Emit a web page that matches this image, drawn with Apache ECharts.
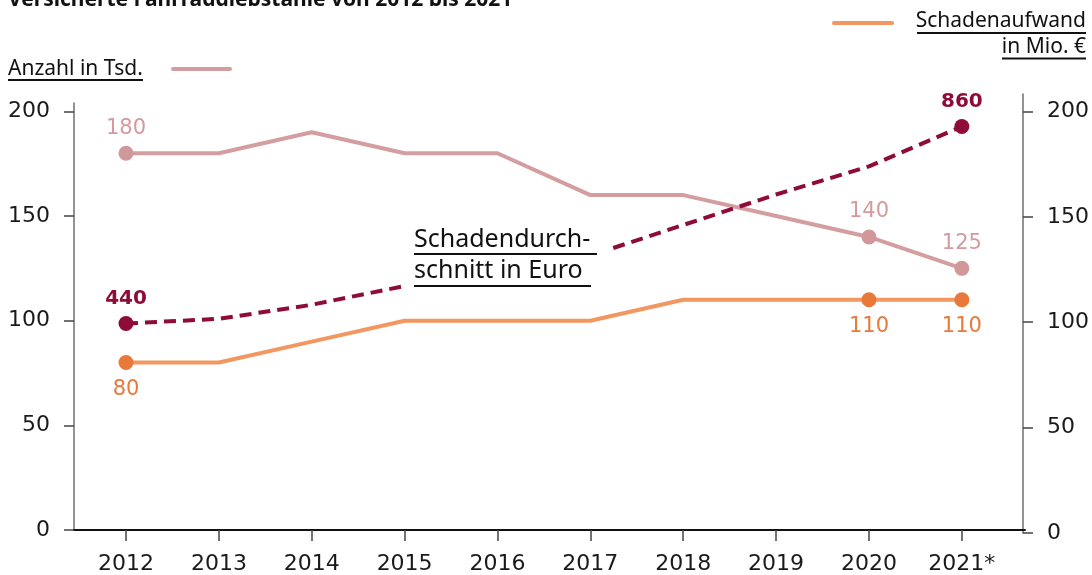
<!DOCTYPE html>
<html>
<head>
<meta charset="utf-8">
<script src="https://cdn.jsdelivr.net/npm/echarts@6/dist/echarts.min.js"></script>
<style>
  html, body { margin: 0; padding: 0; background: #fff; }
  #chart { width: 1092px; height: 575px; }
</style>
</head>
<body>
<div id="chart"></div>
<script>
// ---- data ----
const years = [2012, 2013, 2014, 2015, 2016, 2017, 2018, 2019, 2020, 2021];
const yearLabels = ['2012', '2013', '2014', '2015', '2016', '2017', '2018', '2019', '2020', '2021*'];
const yTicks = [0, 50, 100, 150, 200];
// Anzahl in Tsd. (left axis)
const anzahl = [180, 180, 190, 180, 180, 160, 160, 150, 140, 125];
const anzahlMarked = [0, 8, 9];
// Schadenaufwand in Mio. € (right axis)
const aufwand = [80, 80, 90, 100, 100, 100, 110, 110, 110, 110];
const aufwandMarked = [0, 8, 9];
// Schadendurchschnitt in Euro (own hidden scale)
const durchschnitt = [440, 450, 480, 520, 550, 585, 650, 715, 775, 860];
const durchschnittMarked = [0, 9];

const NUM_FONT = 'DejaVu Sans';
const TXT_FONT = 'Noto Sans';

function build(values, marked) {
  return years.map((y, i) => {
    const on = marked.indexOf(i) >= 0;
    return { value: [y, values[i]], symbol: on ? 'circle' : 'none', label: { show: on } };
  });
}

const chart = echarts.init(document.getElementById('chart'), null, { renderer: 'canvas' });

const xCommon = { type: 'value', min: 2011.44, max: 2021.68 };
const yAxisStyle = {
  axisLine: { show: true, lineStyle: { color: '#6f6f6f', width: 1.5 } },
  axisTick: { show: true, customValues: yTicks, length: 10, lineStyle: { color: '#444', width: 1.5 } },
  axisLabel: { customValues: yTicks, margin: 24, fontFamily: NUM_FONT, fontSize: 22, color: '#1a1a1a',
               verticalAlign: 'middle' },
  splitLine: { show: false }
};

const option = {
  animation: false,
  backgroundColor: '#fff',
  grid: [
    { left: 74, right: 67, top: 103, bottom: 42 },
    { left: 74, right: 67, top: 94, bottom: 42 }
  ],
  xAxis: [
    Object.assign({}, xCommon, {
      gridIndex: 0,
      axisLine: { show: true, onZero: false, lineStyle: { color: '#111', width: 2 } },
      axisTick: { show: true, customValues: years, length: 11, lineStyle: { color: '#444', width: 1.5 } },
      axisLabel: {
        customValues: years,
        formatter: v => yearLabels[years.indexOf(Math.round(v))],
        margin: 23, fontFamily: NUM_FONT, fontSize: 22, color: '#1a1a1a'
      },
      splitLine: { show: false }
    }),
    Object.assign({}, xCommon, { gridIndex: 1, show: false })
  ],
  yAxis: [
    Object.assign({ type: 'value', gridIndex: 0, position: 'left', min: 0, max: 204 }, yAxisStyle),
    Object.assign({ type: 'value', gridIndex: 1, position: 'right', min: 0, max: 208.3 }, yAxisStyle),
    { type: 'value', gridIndex: 0, min: 0, max: 910, show: false }
  ],
  series: [
    {
      name: 'Schadenaufwand in Mio. €',
      type: 'line', xAxisIndex: 0, yAxisIndex: 0, z: 2,
      data: build(aufwand, aufwandMarked),
      showAllSymbol: true, symbolSize: 15,
      lineStyle: { color: '#f2975f', width: 4 },
      itemStyle: { color: '#e9783b' },
      label: { position: 'bottom', distance: 9, formatter: p => p.value[1],
               fontFamily: NUM_FONT, fontSize: 21, color: '#e9783b' },
      emphasis: { disabled: true }
    },
    {
      name: 'Anzahl in Tsd.',
      type: 'line', xAxisIndex: 0, yAxisIndex: 0, z: 3,
      data: build(anzahl, anzahlMarked),
      showAllSymbol: true, symbolSize: 15,
      lineStyle: { color: '#d49ea1', width: 4 },
      itemStyle: { color: '#d1989b' },
      label: { position: 'top', distance: 7, formatter: p => p.value[1],
               fontFamily: NUM_FONT, fontSize: 21, color: '#d49a9d' },
      emphasis: { disabled: true }
    },
    {
      name: 'Schadendurchschnitt in Euro',
      type: 'line', xAxisIndex: 0, yAxisIndex: 2, z: 4,
      data: build(durchschnitt, durchschnittMarked),
      showAllSymbol: true, symbolSize: 15,
      lineStyle: { color: '#8e0c37', width: 4, type: [12, 7] },
      itemStyle: { color: '#8e0c37' },
      label: { position: 'top', distance: 7, formatter: p => p.value[1],
               fontFamily: NUM_FONT, fontWeight: 'bold', fontSize: 20, color: '#8e0c37' },
      emphasis: { disabled: true }
    }
  ],
  graphic: [
    // title (cropped at top)
    { type: 'text', left: 8, top: -10, z: 100,
      style: { text: 'Versicherte Fahrraddiebstähle von 2012 bis 2021', fontFamily: TXT_FONT,
               fontWeight: 'bold', fontSize: 21, fill: '#111' } },
    // left legend
    { type: 'text', left: 8, top: 59, z: 100,
      style: { text: 'Anzahl in Tsd.', fontFamily: TXT_FONT, fontSize: 21, fill: '#111' } },
    { type: 'line', z: 100, shape: { x1: 8, y1: 80, x2: 143, y2: 80 }, style: { stroke: '#111', lineWidth: 2 } },
    { type: 'line', z: 100, shape: { x1: 173, y1: 69, x2: 230, y2: 69 }, style: { stroke: '#d49ea1', lineWidth: 4, lineCap: 'round' } },
    // right legend
    { type: 'line', z: 100, shape: { x1: 834, y1: 23, x2: 892, y2: 23 }, style: { stroke: '#f2975f', lineWidth: 4, lineCap: 'round' } },
    { type: 'text', right: 6, top: 11, z: 100,
      style: { text: 'Schadenaufwand', fontFamily: TXT_FONT, fontSize: 21, fill: '#111', align: 'right' } },
    { type: 'line', z: 100, shape: { x1: 917, y1: 33, x2: 1086, y2: 33 }, style: { stroke: '#111', lineWidth: 2 } },
    { type: 'text', right: 6, top: 37, z: 100,
      style: { text: 'in Mio. €', fontFamily: TXT_FONT, fontSize: 21, fill: '#111', align: 'right' } },
    { type: 'line', z: 100, shape: { x1: 1002, y1: 58.5, x2: 1086, y2: 58.5 }, style: { stroke: '#111', lineWidth: 2 } },
    // annotation for dashed series
    { type: 'rect', z: 100, shape: { x: 404, y: 222, width: 206, height: 70 }, style: { fill: '#fff' } },
    { type: 'text', left: 414, top: 227, z: 101,
      style: { text: 'Schadendurch-', fontFamily: TXT_FONT, fontSize: 25, fill: '#111' } },
    { type: 'line', z: 101, shape: { x1: 414, y1: 254, x2: 597, y2: 254 }, style: { stroke: '#111', lineWidth: 2 } },
    { type: 'text', left: 414, top: 258, z: 101,
      style: { text: 'schnitt in Euro', fontFamily: TXT_FONT, fontSize: 25, fill: '#111' } },
    { type: 'line', z: 101, shape: { x1: 414, y1: 286, x2: 591, y2: 286 }, style: { stroke: '#111', lineWidth: 2 } }
  ]
};

chart.setOption(option);
</script>
</body>
</html>
